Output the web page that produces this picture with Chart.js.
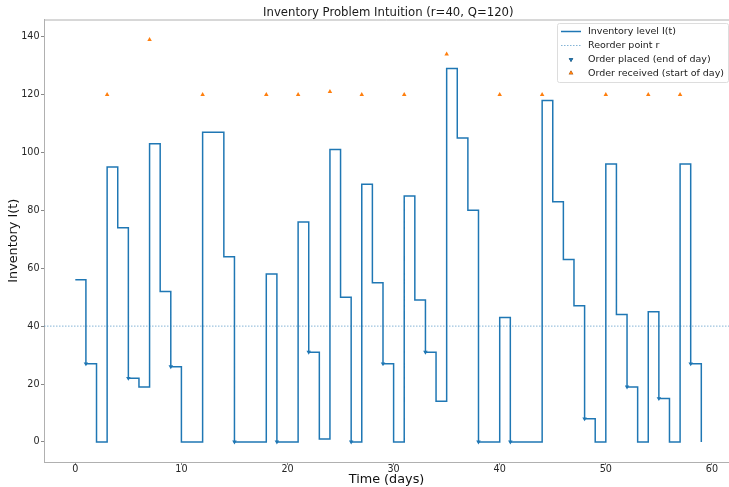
<!DOCTYPE html>
<html>
<head>
<meta charset="utf-8">
<script src="https://cdn.jsdelivr.net/npm/chart.js@4.4.1/dist/chart.umd.min.js"></script>
<style>
  html, body { margin: 0; padding: 0; background: #fff; }
</style>
</head>
<body>
<canvas id="inventoryChart" width="729" height="487"></canvas>
<script>
// Values
const days = [0, 1, 2, 3, 4, 5, 6, 7, 8, 9, 10, 11, 12, 13, 14, 15, 16, 17, 18, 19,
    20, 21, 22, 23, 24, 25, 26, 27, 28, 29, 30, 31, 32, 33, 34, 35, 36, 37, 38, 39,
    40, 41, 42, 43, 44, 45, 46, 47, 48, 49, 50, 51, 52, 53, 54, 55, 56, 57, 58, 59];
const inventory = [56, 27, 0, 95, 74, 22, 19, 103, 52, 26, 0, 0, 107, 107, 64, 0, 0, 0, 58, 0,
    0, 76, 31, 1, 101, 50, 0, 89, 55, 27, 0, 85, 49, 31, 14, 129, 105, 80, 0, 0,
    43, 0, 0, 0, 118, 83, 63, 47, 8, 0, 96, 44, 19, 0, 45, 15, 0, 96, 27, 0];

const placedDays = [1, 5, 9, 15, 19, 22, 26, 29, 33, 38, 41, 48, 52, 55, 58];
const placedLevels = [27, 22, 26, 0, 0, 31, 0, 27, 31, 0, 0, 8, 19, 15, 27];

const receivedDays = [3, 7, 12, 18, 21, 24, 27, 31, 35, 40, 44, 50, 54, 57];
const receivedLevels = [120, 139, 120, 120, 120, 121, 120, 120, 134, 120, 120, 120, 120, 120];

const reorderPoint = 40;
const xTicks = [0, 10, 20, 30, 40, 50, 60];
const yTicks = [0, 20, 40, 60, 80, 100, 120, 140];
const chartTitle = 'Inventory Problem Intuition (r=40, Q=120)';

const BLUE = '#1f77b4';
const ORANGE = '#ff7f0e';
const FONT = '"DejaVu Sans", sans-serif';

// axes limits (the right edge of the figure is cut off)
const xMin = -2.95, xMaxFull = 61.95, xMaxShown = 61.61;

const toPoints = (xs, ys) => xs.map((x, i) => ({ x: x, y: ys[i] }));

// top spine, title and legend box
const framePlugin = {
    id: 'frame',
    afterDraw(chart) {
        const { ctx, chartArea: a, scales: { x } } = chart;
        ctx.save();

        ctx.strokeStyle = '#b0b0b0';
        ctx.lineWidth = 1;
        ctx.beginPath();
        ctx.moveTo(a.left, a.top + 0.5);
        ctx.lineTo(a.right, a.top + 0.5);
        ctx.stroke();

        ctx.fillStyle = '#1a1a1a';
        ctx.font = '11.7px ' + FONT;
        ctx.textAlign = 'center';
        ctx.textBaseline = 'alphabetic';
        ctx.fillText(chartTitle, x.getPixelForValue((xMin + xMaxFull) / 2), 16);

        // legend
        const bx = 557.5, by = 23.5, bw = 171, bh = 59;
        ctx.fillStyle = 'rgba(255,255,255,0.85)';
        ctx.strokeStyle = '#dddddd';
        ctx.beginPath();
        ctx.roundRect(bx, by, bw, bh, 2);
        ctx.fill();
        ctx.stroke();

        const rows = [31.5, 45.5, 59.5, 73];
        const ds = chart.data.datasets;
        ctx.font = '9.5px ' + FONT;
        ctx.textAlign = 'left';
        ctx.textBaseline = 'middle';
        rows.forEach((ry, i) => {
            const d = ds[i];
            if (d.showLine === false) {
                Chart.helpers.drawPoint(ctx, {
                    pointStyle: 'triangle', radius: d.pointRadius, rotation: d.rotation || 0, borderWidth: 0
                }, 571, ry);
                ctx.fillStyle = d.backgroundColor;
                ctx.fill();
            } else {
                ctx.strokeStyle = d.borderColor;
                ctx.lineWidth = d.borderWidth;
                ctx.setLineDash(d.borderDash || []);
                ctx.beginPath();
                ctx.moveTo(561, ry);
                ctx.lineTo(581, ry);
                ctx.stroke();
                ctx.setLineDash([]);
            }
            ctx.fillStyle = '#1a1a1a';
            ctx.fillText(d.label, 588, ry + 0.5);
        });

        ctx.restore();
    }
};

new Chart(document.getElementById('inventoryChart').getContext('2d'), {
    type: 'line',
    data: {
        datasets: [{
            label: 'Inventory level I(t)',
            data: toPoints(days, inventory),
            stepped: 'before',
            borderColor: BLUE,
            borderWidth: 1.5,
            pointRadius: 0,
            fill: false,
            order: 3
        }, {
            label: 'Reorder point r',
            data: toPoints([xMin, xMaxFull], [reorderPoint, reorderPoint]),
            borderColor: 'rgba(31,119,180,0.55)',
            borderWidth: 1,
            borderDash: [1.5, 1.5],
            pointRadius: 0,
            fill: false,
            order: 2
        }, {
            label: 'Order placed (end of day)',
            data: toPoints(placedDays, placedLevels),
            showLine: false,
            pointStyle: 'triangle',
            rotation: 180,
            pointRadius: 2.6,
            borderWidth: 0,
            backgroundColor: BLUE,
            order: 1
        }, {
            label: 'Order received (start of day)',
            data: toPoints(receivedDays, receivedLevels),
            showLine: false,
            pointStyle: 'triangle',
            pointRadius: 2.6,
            borderWidth: 0,
            backgroundColor: ORANGE,
            order: 0
        }]
    },
    options: {
        responsive: false,
        animation: false,
        devicePixelRatio: 1,
        layout: { autoPadding: false, padding: { top: 19.5, left: 0, right: 0, bottom: 0 } },
        plugins: { legend: { display: false }, tooltip: { enabled: false } },
        scales: {
            x: {
                type: 'linear',
                min: xMin,
                max: xMaxShown,
                afterBuildTicks: s => { s.ticks = xTicks.map(v => ({ value: v })); },
                afterFit: s => { s.height = 25; s.paddingLeft = 0; s.paddingRight = 0; },
                grid: { drawOnChartArea: false, tickLength: 3, color: '#888' },
                border: { display: true, color: '#b0b0b0', width: 1 },
                ticks: { font: { family: FONT, size: 9.6 }, color: '#262626', padding: -1.5, maxRotation: 0, autoSkip: false },
                title: { display: true, text: 'Time (days)', font: { family: FONT, size: 12.8 }, color: '#111', padding: { top: 0, bottom: -0.5 } }
            },
            y: {
                min: -6.95,
                max: 145.95,
                afterBuildTicks: s => { s.ticks = yTicks.map(v => ({ value: v })); },
                afterFit: s => { s.width = 44; s.paddingTop = 0; s.paddingBottom = 0; },
                grid: { drawOnChartArea: false, tickLength: 3, color: '#888' },
                border: { display: true, color: '#b0b0b0', width: 1 },
                ticks: { font: { family: FONT, size: 9.6 }, color: '#262626', padding: 1.5 },
                title: { display: true, text: 'Inventory I(t)', font: { family: FONT, size: 12.8 }, color: '#111', padding: { top: 6.3, bottom: 0 } }
            }
        }
    },
    plugins: [framePlugin]
});
</script>
</body>
</html>
